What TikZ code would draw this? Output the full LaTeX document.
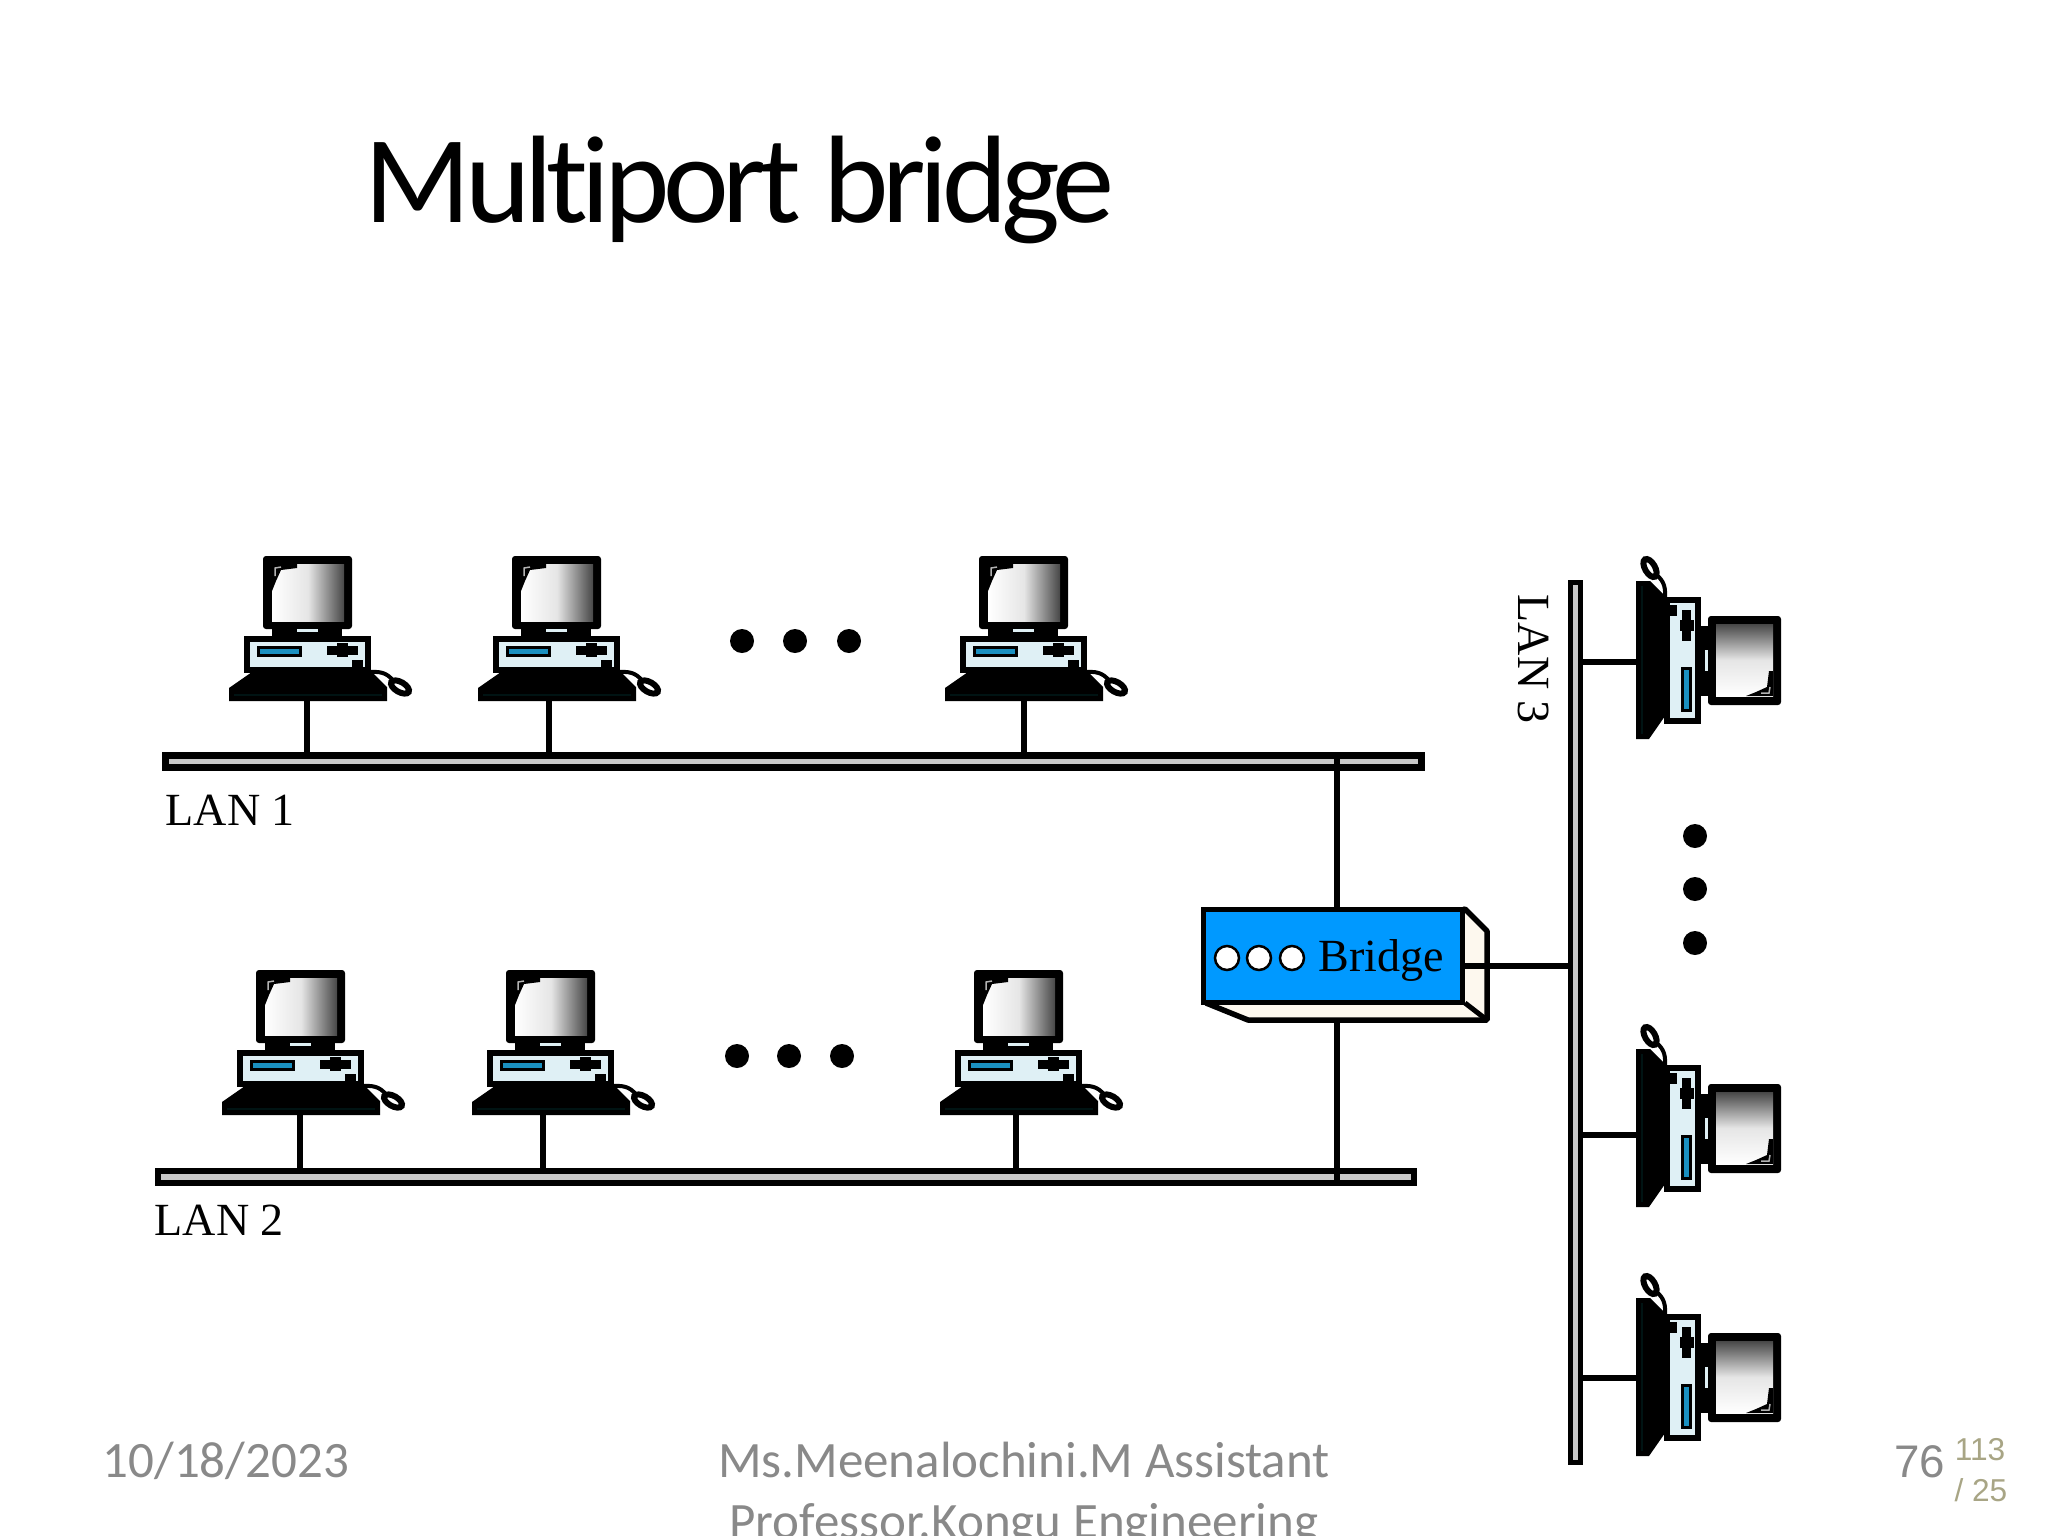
\documentclass[tikz,border=0pt]{standalone}
\usepackage{fontspec}
\setmainfont{Carlito}
\newfontfamily\lanfont{Liberation Serif}
\newfontfamily\pagefont{Liberation Sans}
\newfontfamily\titlefont[LetterSpace=-5,Ligatures=NoCommon]{Carlito}
\definecolor{casecol}{HTML}{DFF0F5}
\definecolor{slotcol}{HTML}{1A90C0}
\definecolor{bridgecol}{HTML}{0099FF}
\definecolor{sidecol}{HTML}{FDF8EE}
\definecolor{barcol}{HTML}{C8C8C8}
\definecolor{footcol}{HTML}{898989}
\definecolor{pagecol}{HTML}{A8A585}
\def\px{0.01cm}
\tikzset{
	screen/.style={left color=white,right color=black!72,middle color=white!90!black},
	wire/.style={line width=5.5*\px},
	bar/.style={draw,fill=barcol,line width=6.5*\px,inner sep=0pt,outer sep=0pt},
	lan/.style={inner sep=0pt,font=\lanfont\fontsize{13.1}{15}\selectfont},
	foot/.style={inner sep=0pt,text=footcol,font=\fontsize{14.5}{17}\selectfont},
	page/.style={inner sep=0pt,text=pagecol,font=\pagefont\fontsize{9}{11}\selectfont},
	pics/computer/.style={code={
		%monitor
			\fill[rounded corners=3*\px] (34,-145) rectangle (123,-72);
			\path[screen] (43,-137) rectangle (115,-80);
			\fill (43,-137) -- (68,-137) -- (68,-133) -- (52,-131) -- (47,-120) -- (43,-110) -- cycle;
			\draw[white!70!black,line width=1.5*\px] (46,-125) -- (46,-133) -- (52,-134);
		%neck
			\fill (43,-72) rectangle (113,-65);
			\fill[casecol] (68,-72) rectangle (89,-69);
		%case
			\draw[fill=casecol,line width=6*\px] (18,-62) rectangle (139,-31);
			\draw[fill=slotcol,line width=3*\px] (29,-54) rectangle (71,-46);
			\fill (98,-55) rectangle (129,-46);
			\fill (108,-58) rectangle (119,-44);
			\fill (123,-41) rectangle (134,-29);
		%mouse
			\draw[line width=4*\px] (141,-29) .. controls (155,-30) and (160,-26) .. (166,-18);
			\draw[fill=white,line width=6*\px,rotate around={-30:(171,-14)}] (171,-14) ellipse [x radius=10*\px,y radius=5*\px];
		%keyboard
			\fill (0,0) -- (0,-13) -- (23,-29) -- (143,-29) -- (158,-14) -- (158,0) -- cycle;
			\draw[black!85!teal,line width=1.5*\px] (5,-6) -- (153,-6);
	}}
}
\begin{document}
\begin{tikzpicture}[x=0.01cm,y=-0.01cm]
	\useasboundingbox (0,0) rectangle (2048,1536);
	%title
		\node[anchor=base west,inner sep=0pt,font=\titlefont\fontsize{35.4}{40}\selectfont] (title) at (364,222) {Multiport bridge};
	%lans
		\node[bar,minimum width=1256*\px,minimum height=12*\px] (lanone) at (793.5,761.5) {};
		\node[bar,minimum width=1256*\px,minimum height=12*\px] (lantwo) at (786,1177) {};
		\node[bar,line width=5*\px,minimum width=10*\px,minimum height=880*\px] (lanthree) at (1575.5,1022) {};
		\node[lan,anchor=base west] (lanonetxt) at (165,825) {LAN 1};
		\node[lan,anchor=base west] (lantwotxt) at (154,1235) {LAN 2};
		\node[lan,anchor=base west,rotate=-90] (lanthreetxt) at (1518,594) {LAN 3};
	%top row
		\pic (pca) at (229,701) {computer};
		\pic (pcb) at (478,701) {computer};
		\pic (pcc) at (945,701) {computer};
		\coordinate (tapa) at (307,701);
		\coordinate (tapb) at (549,701);
		\coordinate (tapc) at (1024,701);
		\draw[wire] (tapa) -- (tapa |- lanone.north);
		\draw[wire] (tapb) -- (tapb |- lanone.north);
		\draw[wire] (tapc) -- (tapc |- lanone.north);
		\fill (742,641) circle[radius=12*\px];
		\fill (795,641) circle[radius=12*\px];
		\fill (849,641) circle[radius=12*\px];
	%bottom row
		\pic (pcd) at (222,1115) {computer};
		\pic (pce) at (472,1115) {computer};
		\pic (pcf) at (940,1115) {computer};
		\coordinate (tapd) at (300,1115);
		\coordinate (tape) at (543,1115);
		\coordinate (tapf) at (1016,1115);
		\draw[wire] (tapd) -- (tapd |- lantwo.north);
		\draw[wire] (tape) -- (tape |- lantwo.north);
		\draw[wire] (tapf) -- (tapf |- lantwo.north);
		\fill (737,1056) circle[radius=12*\px];
		\fill (789,1056) circle[radius=12*\px];
		\fill (842,1056) circle[radius=12*\px];
	%right column
		\pic[screen/.style={bottom color=white,top color=black!72,middle color=white!90!black},cm={0,1,1,0,(0,0)}] (pcg) at (1636,739) {computer};
		\pic[screen/.style={bottom color=white,top color=black!72,middle color=white!90!black},cm={0,1,1,0,(0,0)}] (pch) at (1636,1207) {computer};
		\pic[screen/.style={bottom color=white,top color=black!72,middle color=white!90!black},cm={0,1,1,0,(0,0)}] (pci) at (1636,1456) {computer};
		\coordinate (tapg) at (1636,662);
		\coordinate (taph) at (1636,1135);
		\coordinate (tapi) at (1636,1378);
		\draw[wire] (tapg) -- (tapg -| lanthree.east);
		\draw[wire] (taph) -- (taph -| lanthree.east);
		\draw[wire] (tapi) -- (tapi -| lanthree.east);
		\fill (1695,836) circle[radius=12*\px];
		\fill (1695,889) circle[radius=12*\px];
		\fill (1695,943) circle[radius=12*\px];
	%bridge
		\draw[fill=sidecol,line width=5.5*\px,line join=bevel] (1465,909) -- (1487,931) -- (1487,1020) -- (1248,1020) -- (1206,1003) -- cycle;
		\draw[line width=5*\px] (1465,1003) -- (1487,1020);
		\node[draw,fill=bridgecol,line width=5.5*\px,inner sep=0pt,minimum width=259*\px,minimum height=93*\px] (bridge) at (1333,956) {};
		\node[anchor=base west,inner sep=0pt,font=\lanfont\fontsize{13.1}{15}\selectfont] (bridgetxt) at (1318,971) {Bridge};
		\draw[fill=white,line width=2.5*\px] (1227,958) circle[radius=12*\px];
		\draw[fill=white,line width=2.5*\px] (1259,958) circle[radius=12*\px];
		\draw[fill=white,line width=2.5*\px] (1292,958) circle[radius=12*\px];
		\coordinate (porttop) at (1337,907);
		\coordinate (portbot) at (1337,1022);
		\coordinate (portright) at (1465,966);
		\draw[wire] (porttop) -- (porttop |- lanone.north);
		\draw[wire] (portbot) -- (portbot |- lantwo.south);
		\draw[wire] (portright) -- (portright -| lanthree.west);
	%footer
		\node[foot,anchor=base west] (date) at (102,1477) {10/18/2023};
		\node[foot,anchor=base] (who) at (1024,1477) {Ms.Meenalochini.M Assistant};
		\node[foot,anchor=base] (who2) at (1024,1538) {Professor.Kongu Engineering};
		\node[foot,anchor=base east,font=\pagefont\fontsize{13}{15}\selectfont] (num) at (1946,1477) {76};
		\node[page,anchor=base east] (pagea) at (2006,1460) {113};
		\node[page,anchor=base east] (pageb) at (2008,1501) {/ 25};
\end{tikzpicture}
\end{document}
